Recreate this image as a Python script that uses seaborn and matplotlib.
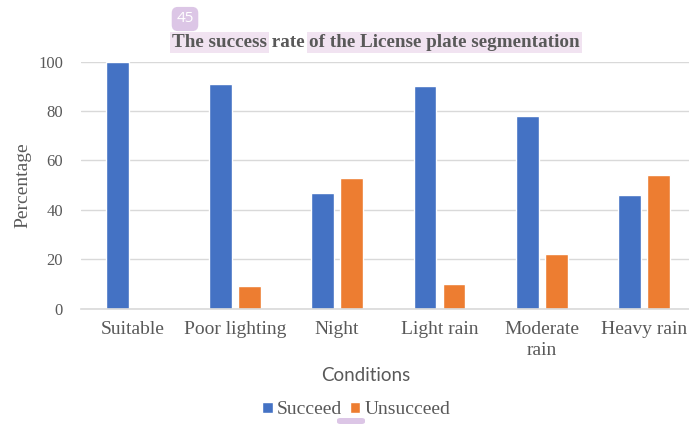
import matplotlib
matplotlib.use("Agg")
import matplotlib.pyplot as plt
from matplotlib.patches import FancyBboxPatch
import pandas as pd
import seaborn as sns

conditions = ["Suitable", "Poor lighting", "Night", "Light rain", "Moderate\nrain", "Heavy rain"]
succeed = [100, 91, 47, 90, 78, 46]
unsucceed = [0, 9, 53, 10, 22, 54]
series_names = ["Succeed", "Unsucceed"]
colors = ["#4472C4", "#ED7D31"]
y_ticks = [0, 20, 40, 60, 80, 100]

df = pd.DataFrame({
    "Conditions": conditions * 2,
    "Percentage": succeed + unsucceed,
    "Series": [series_names[0]] * len(conditions) + [series_names[1]] * len(conditions),
})

sns.set_theme(style="white")
plt.rcParams["font.family"] = ["Liberation Serif", "DejaVu Serif"]
text_gray = "#595959"
grid_gray = "#D9D9D9"

fig = plt.figure(figsize=(6.89, 4.24), dpi=100)
ax = fig.add_axes([0.1178, 0.2724, 0.8914, 0.5821])

sns.barplot(data=df, x="Conditions", y="Percentage", hue="Series",
            palette=colors, width=0.567, gap=0.216, ax=ax,
            saturation=1, legend=True)

ax.set_ylim(0, 100)
ax.set_xlim(-0.5, len(conditions) - 0.5)
ax.set_yticks(y_ticks)
ax.yaxis.grid(True, color=grid_gray, linewidth=1.0)
ax.set_axisbelow(True)
for side in ["top", "right", "left"]:
    ax.spines[side].set_visible(False)
ax.spines["bottom"].set_color(grid_gray)
ax.spines["bottom"].set_linewidth(1.2)

ax.tick_params(axis="y", length=0, pad=13, labelsize=12, labelcolor=text_gray)
ax.tick_params(axis="x", length=0, pad=9, labelsize=14, labelcolor=text_gray)
for lbl in ax.get_xticklabels():
    lbl.set_linespacing(1.3)

ax.set_ylabel("Percentage", fontsize=14, color=text_gray, labelpad=5)
ax.set_xlabel("Conditions", fontsize=13.5, color=text_gray,
              family=["Lato", "DejaVu Sans"])
ax.xaxis.set_label_coords((366 - 81.2) / 614.2, -(375 - 308.5) / 246.8)
ax.xaxis.label.set_va("center")

# Legend below the axes
handles, labels = ax.get_legend_handles_labels()
ax.get_legend().remove()
fig.legend(handles, labels, loc="center", bbox_to_anchor=(356 / 689, 1 - 410 / 424),
           ncol=2, frameon=False, fontsize=14, handlelength=0.55, handleheight=0.55,
           handletextpad=0.2, columnspacing=0.4, labelcolor=text_gray)

# Title with highlighted fragments
hl = dict(boxstyle="square,pad=0.1", facecolor="#F1E3F1", edgecolor="none")
title_y = 1 - 47 / 424
t1 = fig.text(172 / 689, title_y, "The success", fontsize=13.8, fontweight="bold",
              color=text_gray, ha="left", va="baseline", bbox=hl)
t2 = ax.annotate(" rate ", xy=(1, 0), xycoords=t1, fontsize=13.8, fontweight="bold",
                 color=text_gray, ha="left", va="bottom", annotation_clip=False)
t3 = ax.annotate("of the License plate segmentation", xy=(1, 0), xycoords=t2,
                 fontsize=13.8, fontweight="bold", color=text_gray, ha="left",
                 va="bottom", bbox=hl, annotation_clip=False)

# Page-number badges
fig.text(185 / 689, 1 - 19 / 424, "45", fontsize=11, color="white",
         family=["Open Sans", "DejaVu Sans"], ha="center", va="center",
         bbox=dict(boxstyle="round,pad=0.3,rounding_size=0.4",
                   facecolor="#DCC6E6", edgecolor="none"))
fig.patches.append(FancyBboxPatch((337 / 689, 0.0), 28 / 689, 6 / 424,
                                  boxstyle="round,pad=0,rounding_size=0.005",
                                  transform=fig.transFigure, facecolor="#DCC6E6",
                                  edgecolor="none"))

fig.savefig("out.png", dpi=100)
